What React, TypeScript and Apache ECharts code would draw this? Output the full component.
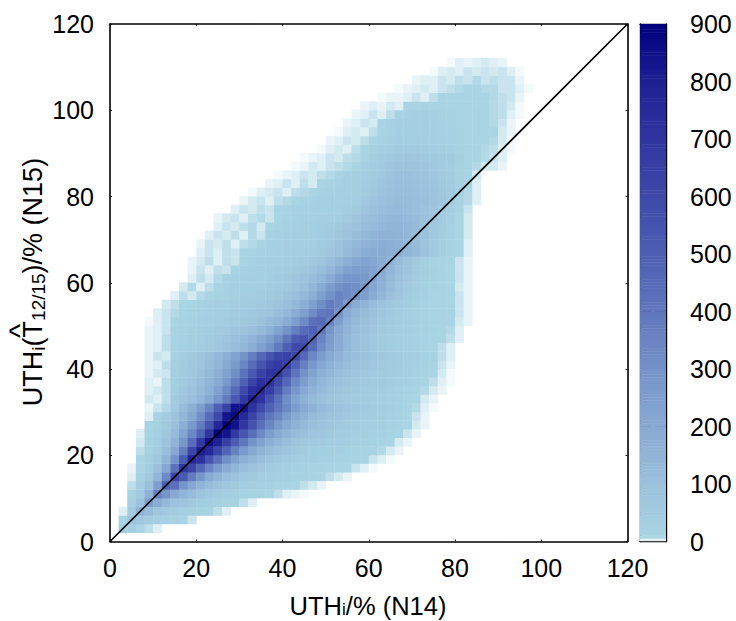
import React, { useEffect, useRef } from "react";
import * as echarts from "echarts";

const axisTicks = [0, 20, 40, 60, 80, 100, 120];
const colorStopValues = [0, 8, 100, 200, 300, 400, 500, 600, 700, 800, 900];
const colorStopRgb = [
  [255, 255, 255], [168, 212, 227], [155, 192, 220], [135, 169, 210], [115, 146, 200],
  [95, 118, 189], [76, 95, 179], [62, 73, 169], [48, 53, 160], [30, 31, 147], [0, 0, 128],
];
const cellSize = 2;
const firstRowBottom = 2;
const rowFirstX = [3,3,3,5,5,5,5,5,7,7,7,7,9,9,9,9,9,9,9,9,9,9,9,9,9,11,13,15,17,19,19,19,21,21,23,25,25,29,31,33,37,39,43,45,49,51,53,55,57,59,63,67,71,75,79];
const cellCounts = [
[25,30,10,6,3],
[8,90,70,45,30,22,16,10,5],
[3,50,160,120,80,60,45,35,25,18,12,6,3],
[25,90,250,190,130,95,75,55,42,32,26,18,12,6,3],
[12,50,160,360,290,200,150,115,85,65,50,40,30,24,18,13,9,6,3,2,1],
[6,35,100,240,500,420,290,210,150,115,90,70,55,42,32,25,20,16,12,9,6,4,2],
[3,20,65,150,330,620,520,380,280,200,150,115,90,70,55,42,34,27,22,18,15,12,9,6,4,2],
[2,12,40,100,210,420,700,620,470,350,260,190,145,110,85,68,52,42,34,28,23,19,16,13,10,8,5,3,1],
[8,28,70,150,290,510,770,720,550,420,310,230,175,135,105,82,65,52,42,35,29,24,20,17,14,11,8,5,3,1],
[6,22,50,110,210,370,610,810,760,620,480,360,270,205,160,125,98,78,62,50,42,35,29,25,21,17,14,11,7,4,2],
[4,16,40,85,160,280,440,680,850,790,650,510,400,300,230,180,140,110,88,70,58,48,40,34,29,25,20,16,12,8,4,2],
[3,12,32,70,125,220,340,480,700,880,830,680,540,430,330,250,195,155,122,98,80,66,55,46,40,34,29,24,19,14,9,5,2],
[9,26,55,100,175,265,380,540,760,890,840,700,560,430,345,265,205,160,128,104,86,72,60,50,43,37,31,25,19,13,8,4,2],
[3,8,45,85,140,210,310,440,600,830,870,760,630,500,400,335,260,200,158,126,102,85,71,60,52,45,38,31,24,17,10,5,2],
[2,5,7,60,115,175,250,350,490,640,840,840,720,600,490,400,330,255,200,158,126,103,86,73,63,54,46,38,30,22,14,7,3,1],
[4,3,6,48,75,105,145,200,280,380,520,680,790,710,560,430,310,225,165,125,98,80,68,58,50,44,38,32,26,20,14,9,4,2],
[3,4,6,42,66,92,125,170,235,325,450,600,730,760,660,520,380,280,205,155,120,96,80,68,58,50,44,38,32,26,19,13,7,4,2],
[3,2,6,36,56,80,108,146,200,272,370,490,620,730,720,600,460,340,250,188,145,115,94,80,68,58,50,44,38,32,25,18,10,6,3,1],
[2,4,5,31,48,70,95,128,172,230,310,410,520,640,710,700,560,410,305,228,175,138,112,94,80,68,58,50,44,38,31,23,14,8,4,1],
[2,3,6,27,43,62,85,113,150,198,262,345,440,540,640,680,640,490,365,275,210,165,134,110,93,79,67,58,50,43,35,26,17,9,5,2],
[2,5,4,24,38,56,76,102,134,175,228,295,375,465,550,620,640,600,460,335,255,200,160,132,110,93,79,68,58,50,41,31,21,12,6,3],
[2,3,6,15,24,33,44,56,70,88,110,140,180,235,300,385,500,600,590,445,325,245,185,140,105,82,63,50,40,32,26,20,14,9,6,3],
[2,3,6,14,22,30,40,51,64,80,100,125,155,190,245,315,400,510,550,470,345,255,190,140,105,80,62,48,38,31,25,20,15,12,9,6,3],
[2,3,5,11,18,25,32,40,50,60,72,88,105,130,170,225,295,370,450,490,400,280,205,155,115,90,71,56,45,36,29,22,16,13,10,7,3],
[1,3,5,10,16,22,28,35,42,49,55,65,78,95,120,150,195,255,330,430,450,360,250,165,128,100,80,64,51,41,33,24,17,14,11,8,4,2],
[3,5,7,11,15,21,27,34,42,45,53,62,72,88,110,140,185,245,320,390,400,300,200,150,118,94,74,58,46,36,25,17,14,12,9,5,2],
[4,6,9,14,19,25,31,36,38,44,50,58,68,82,105,135,178,240,315,375,345,265,195,148,116,90,69,53,40,28,18,14,12,9,5,2],
[3,6,4,7,10,16,24,33,38,43,48,55,65,82,105,135,180,240,305,350,320,295,240,185,140,100,72,50,33,20,14,12,9,5,2],
[4,7,3,6,14,22,30,33,37,41,46,52,62,80,105,145,195,250,300,320,310,270,215,165,120,85,60,38,24,16,12,9,4,2],
[3,6,4,7,16,22,27,31,35,40,48,58,72,90,115,145,190,245,280,290,270,225,175,130,95,68,44,26,16,12,9,5,2],
[2,5,3,6,5,14,22,26,30,34,38,46,56,68,84,108,142,185,230,255,250,225,185,142,105,75,50,30,17,12,9,5,2],
[2,4,6,3,6,5,14,20,25,29,33,38,44,52,62,80,108,140,172,205,225,215,190,155,118,85,56,34,18,12,9,5,2],
[3,5,3,6,5,8,14,20,25,30,34,38,42,46,55,72,95,125,155,180,195,190,180,175,150,130,90,60,35,18,8,3],
[2,5,4,6,3,6,7,12,20,26,30,33,37,42,48,65,85,110,135,155,170,178,175,160,140,118,88,60,36,18,8,3],
[3,5,4,6,3,7,5,12,20,26,30,33,37,42,52,68,88,110,130,148,160,162,155,140,118,92,64,38,20,9,4],
[3,5,4,6,7,4,8,14,22,27,31,35,39,45,55,72,90,108,125,140,148,148,138,120,96,70,44,22,10,4],
[2,4,5,3,6,7,5,10,18,24,27,28,29,30,36,50,72,98,112,126,134,135,130,115,95,72,48,25,10,4],
[3,5,4,6,5,8,12,20,24,26,27,28,30,38,55,78,98,112,122,125,120,108,92,72,52,30,12,5],
[2,4,5,3,6,7,9,18,24,26,27,28,30,40,60,80,98,110,118,118,108,98,86,72,45,18,7,3],
[1,3,4,5,3,6,7,10,18,24,26,28,32,45,65,85,100,110,112,104,95,85,70,48,20,7,3],
[2,3,5,3,6,4,8,12,22,25,30,38,55,78,92,104,105,98,90,78,62,45,22,8,3],
[1,2,3,5,4,6,7,12,26,30,34,48,70,86,98,100,92,84,72,58,42,22,9,4],
[1,2,4,3,5,6,7,14,26,38,55,72,84,88,82,74,64,52,42,24,11,7,4,4,2],
[1,2,3,5,4,6,7,14,30,48,60,70,72,68,62,56,50,46,26,12,9,7,5,3],
[1,3,4,3,6,8,16,30,42,50,52,50,46,40,34,28,18,10,8,7,6,3,1],
[2,3,5,4,6,10,20,32,40,42,40,36,31,26,21,15,11,9,8,7,4,1],
[1,3,4,3,6,9,18,28,34,34,32,28,24,20,16,13,11,10,8,4,2],
[2,3,5,4,9,20,30,34,34,30,25,20,16,13,12,11,10,7,5,2],
[2,3,5,3,6,12,20,25,25,22,18,15,13,12,11,9,7,6,3,1],
[2,3,2,4,3,8,10,12,14,13,12,11,11,10,9,7,6,4,1],
[1,2,2,3,5,3,6,8,9,10,10,9,8,7,6,5,2],
[1,2,3,4,3,5,6,7,8,8,7,7,5,5,3,1],
[2,3,3,5,4,6,5,7,5,6,5,5,2],
[1,3,4,3,5,4,5,4,5,3,1],
[1,3,2,3,4,3,2],
];
const diagonal = [[0, 0], [120, 120]];
const colorbarStep = 5;
const colorbarMax = 900;

function countColor(v: number) {
  let i = 0;
  while (i < colorStopValues.length - 2 && v > colorStopValues[i + 1]) i++;
  const t = Math.min(1, (v - colorStopValues[i]) / (colorStopValues[i + 1] - colorStopValues[i]));
  const a = colorStopRgb[i], b = colorStopRgb[i + 1];
  return `rgb(${a.map((c, k) => Math.round(c + (b[k] - c) * t)).join(",")})`;
}

const densityCells: number[][] = [];
cellCounts.forEach((row, r) => {
  row.forEach((count, j) => {
    densityCells.push([rowFirstX[r] - 1 + j * cellSize, firstRowBottom + r * cellSize, count]);
  });
});
const colorbarCells: number[][] = [];
for (let l = 0; l < colorbarMax; l += colorbarStep) colorbarCells.push([0, l, l + colorbarStep / 2]);

const FONT = "Liberation Sans";
const black = "#000";

function cellRenderer(w: number, h: number) {
  return (_: any, api: any) => {
    const p0 = api.coord([api.value(0), api.value(1)]);
    const p1 = api.coord([api.value(0) + w, api.value(1) + h]);
    return {
      type: "rect",
      shape: { x: p0[0], y: p1[1] - 0.4, width: p1[0] - p0[0] + 0.4, height: p0[1] - p1[1] + 0.4 },
      style: { fill: countColor(api.value(2)) },
    };
  };
}

export default function App() {
  const ref = useRef<HTMLDivElement>(null);
  useEffect(() => {
    const chart = echarts.init(ref.current!, undefined, { renderer: "svg" });
    const label = { color: black, fontFamily: FONT, fontSize: 25 };
    const line = { show: true, onZero: false, lineStyle: { color: black, width: 1.6 } };
    const mainAxis = (position: string, showLabel: boolean, margin: number) => ({
      type: "value", gridIndex: 0, min: 0, max: 120, interval: 20, position,
      axisLine: line, splitLine: { show: false },
      axisTick: { show: true, inside: true, length: 2, lineStyle: { color: black, width: 1 } },
      axisLabel: { show: showLabel, margin, ...label, formatter: (v: number) => (axisTicks.includes(v) ? String(v) : "") },
    });
    chart.setOption({
      animation: false,
      backgroundColor: "#fff",
      grid: [
        { left: 110, top: 24, width: 517.5, height: 517.5 },
        { left: 640, top: 24, width: 26, height: 517.5 },
      ],
      xAxis: [
        mainAxis("bottom", true, 14),
        mainAxis("top", false, 14),
        { type: "value", gridIndex: 1, min: 0, max: 1, position: "bottom", axisLine: { ...line, lineStyle: { color: black, width: 1.4 } }, axisTick: { show: false }, axisLabel: { show: false }, splitLine: { show: false } },
        { type: "value", gridIndex: 1, min: 0, max: 1, position: "top", axisLine: { ...line, lineStyle: { color: black, width: 1.4 } }, axisTick: { show: false }, axisLabel: { show: false }, splitLine: { show: false } },
      ],
      yAxis: [
        mainAxis("left", true, 16),
        mainAxis("right", false, 16),
        {
          type: "value", gridIndex: 1, min: 0, max: 900, interval: 100, position: "right",
          axisLine: { ...line, lineStyle: { color: black, width: 1.4 } }, splitLine: { show: false },
          axisTick: { show: true, inside: true, length: 11, lineStyle: { color: black, width: 1 } },
          axisLabel: { show: true, margin: 24, ...label },
        },
        {
          type: "value", gridIndex: 1, min: 0, max: 900, interval: 100, position: "left",
          axisLine: { ...line, lineStyle: { color: black, width: 1.4 } }, splitLine: { show: false },
          axisTick: { show: true, inside: true, length: 11, lineStyle: { color: black, width: 1 } },
          axisLabel: { show: false },
        },
      ],
      series: [
        {
          type: "custom", xAxisIndex: 0, yAxisIndex: 0, data: densityCells, z: 1, silent: true,
          dimensions: ["x", "y", "count"], encode: { x: 0, y: 1 }, clip: true,
          renderItem: cellRenderer(cellSize, cellSize),
        },
        {
          type: "line", xAxisIndex: 0, yAxisIndex: 0, data: diagonal, z: 5, symbol: "none", silent: true,
          lineStyle: { color: black, width: 1.6 },
        },
        {
          type: "custom", xAxisIndex: 2, yAxisIndex: 2, data: colorbarCells, z: 1, silent: true,
          dimensions: ["x", "y", "count"], encode: { x: 0, y: 1 }, clip: true,
          renderItem: cellRenderer(1, colorbarStep),
        },
      ],
      graphic: [
        {
          type: "text", x: 368, y: 606, z: 20,
          style: {
            text: "{a|UTH}{s|i}{a|/% (N14)}", align: "center", verticalAlign: "middle", fill: black,
            rich: {
              a: { fontFamily: FONT, fontSize: 25.5, fill: black },
              s: { fontFamily: FONT, fontSize: 17, fill: black, padding: [7, 0, 0, 0] },
            },
          },
        },
        {
          type: "text", x: 33, y: 282, rotation: Math.PI / 2, z: 20,
          style: {
            text: "{a|UTH}{s|i}{a|(T}{s|12/15}{a|)/% (N15)}", align: "center", verticalAlign: "middle", fill: black,
            rich: {
              a: { fontFamily: FONT, fontSize: 27, fill: black },
              s: { fontFamily: FONT, fontSize: 19, fill: black, padding: [10, 0, 0, 0] },
            },
          },
        },
        {
          type: "text", x: 19, y: 331, rotation: Math.PI / 2, z: 20,
          style: { text: "^", align: "center", verticalAlign: "middle", fill: black, fontFamily: FONT, fontSize: 30 },
        },
      ],
    });
    return () => chart.dispose();
  }, []);
  return <div ref={ref} style={{ position: "absolute", left: 0, top: 0, width: 736, height: 621 }} />;
}
